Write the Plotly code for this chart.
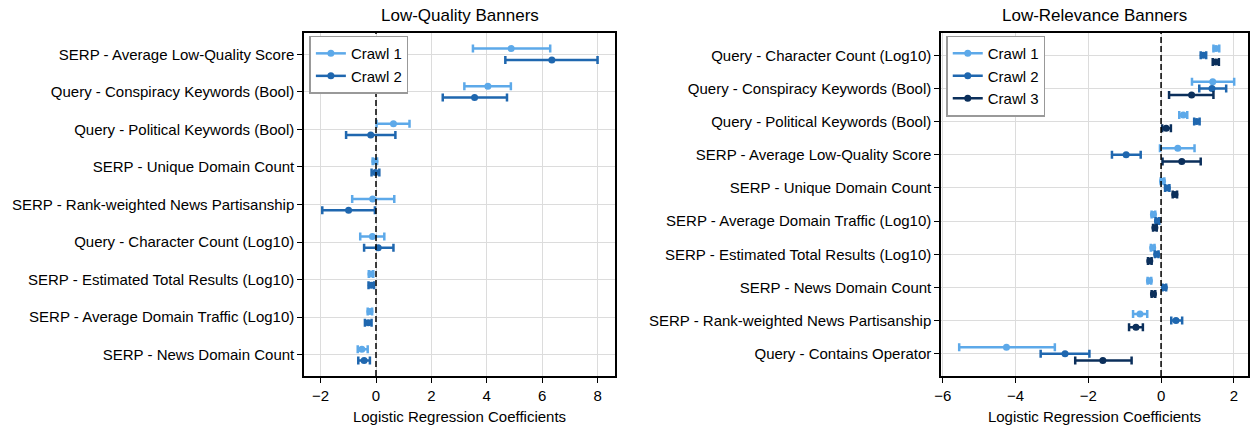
import plotly.graph_objects as go

# Low-Quality Banners (rows listed top to bottom)
lq_features = [
    "SERP - Average Low-Quality Score",
    "Query - Conspiracy Keywords (Bool)",
    "Query - Political Keywords (Bool)",
    "SERP - Unique Domain Count",
    "SERP - Rank-weighted News Partisanship",
    "Query - Character Count (Log10)",
    "SERP - Estimated Total Results (Log10)",
    "SERP - Average Domain Traffic (Log10)",
    "SERP - News Domain Count",
]
lq_crawl1 = [4.88, 4.04, 0.63, -0.04, -0.12, -0.13, -0.18, -0.22, -0.51]
lq_crawl1_lo = [3.50, 3.19, 0.02, -0.12, -0.86, -0.57, -0.26, -0.30, -0.66]
lq_crawl1_hi = [6.29, 4.87, 1.21, 0.04, 0.66, 0.30, -0.10, -0.14, -0.30]
lq_crawl2 = [6.35, 3.56, -0.19, -0.02, -0.99, 0.08, -0.17, -0.28, -0.43]
lq_crawl2_lo = [4.67, 2.41, -1.08, -0.16, -1.94, -0.43, -0.27, -0.40, -0.64]
lq_crawl2_hi = [8.00, 4.73, 0.70, 0.12, -0.04, 0.63, -0.07, -0.16, -0.22]

# Low-Relevance Banners (rows listed top to bottom)
lr_features = [
    "Query - Character Count (Log10)",
    "Query - Conspiracy Keywords (Bool)",
    "Query - Political Keywords (Bool)",
    "SERP - Average Low-Quality Score",
    "SERP - Unique Domain Count",
    "SERP - Average Domain Traffic (Log10)",
    "SERP - Estimated Total Results (Log10)",
    "SERP - News Domain Count",
    "SERP - Rank-weighted News Partisanship",
    "Query - Contains Operator",
]
lr_crawl1 = [1.51, 1.42, 0.61, 0.46, 0.04, -0.21, -0.23, -0.32, -0.58, -4.25]
lr_crawl1_lo = [1.44, 0.85, 0.50, -0.03, -0.01, -0.26, -0.28, -0.37, -0.77, -5.55]
lr_crawl1_hi = [1.60, 2.01, 0.72, 0.92, 0.09, -0.16, -0.18, -0.27, -0.38, -2.92]
lr_crawl2 = [1.16, 1.40, 0.98, -0.96, 0.17, -0.10, -0.12, 0.09, 0.41, -2.64]
lr_crawl2_lo = [1.09, 1.05, 0.91, -1.35, 0.11, -0.15, -0.17, 0.04, 0.28, -3.31]
lr_crawl2_hi = [1.24, 1.79, 1.06, -0.56, 0.23, -0.05, -0.07, 0.14, 0.58, -1.97]
lr_crawl3 = [1.50, 0.84, 0.14, 0.57, 0.38, -0.17, -0.31, -0.21, -0.69, -1.60]
lr_crawl3_lo = [1.42, 0.22, 0.03, 0.04, 0.32, -0.22, -0.36, -0.26, -0.88, -2.36]
lr_crawl3_hi = [1.59, 1.44, 0.27, 1.09, 0.44, -0.12, -0.26, -0.16, -0.50, -0.81]

COLORS = ["#5DA9E9", "#1F67AF", "#0B2F5B"]
FONT = "Liberation Sans, Arial, sans-serif"

fig = go.Figure()


def add_series(name, center, lo, hi, rows, offset, color, xaxis, yaxis, legend):
    ys = [i + offset for i in range(len(rows))]
    fig.add_trace(go.Scatter(
        x=center, y=ys, mode="markers", name=name, showlegend=False,
        marker=dict(color=color, size=7),
        error_x=dict(
            type="data", symmetric=False,
            array=[h - c for c, h in zip(center, hi)],
            arrayminus=[c - l for c, l in zip(center, lo)],
            color=color, thickness=2.5, width=4,
        ),
        xaxis=xaxis, yaxis=yaxis,
    ))
    # legend glyph: short line through a dot, like an errorbar handle
    fig.add_trace(go.Scatter(
        x=[None], y=[None], mode="lines+markers", name=name,
        line=dict(color=color, width=2.5), marker=dict(color=color, size=7),
        xaxis=xaxis, yaxis=yaxis, legend=legend,
    ))


add_series("Crawl 1", lq_crawl1, lq_crawl1_lo, lq_crawl1_hi, lq_features, -0.15, COLORS[0], "x", "y", "legend")
add_series("Crawl 2", lq_crawl2, lq_crawl2_lo, lq_crawl2_hi, lq_features, 0.15, COLORS[1], "x", "y", "legend")
add_series("Crawl 1", lr_crawl1, lr_crawl1_lo, lr_crawl1_hi, lr_features, -0.2, COLORS[0], "x2", "y2", "legend2")
add_series("Crawl 2", lr_crawl2, lr_crawl2_lo, lr_crawl2_hi, lr_features, 0.0, COLORS[1], "x2", "y2", "legend2")
add_series("Crawl 3", lr_crawl3, lr_crawl3_lo, lr_crawl3_hi, lr_features, 0.2, COLORS[2], "x2", "y2", "legend2")

axis_common = dict(
    showline=True, linecolor="black", linewidth=1.5, mirror=True,
    ticks="outside", ticklen=5, tickwidth=1.3, tickcolor="black",
    showgrid=True, gridcolor="#dcdcdc", gridwidth=1, zeroline=False,
    automargin=False,
    tickfont=dict(size=15, color="black", family=FONT),
)

legend_common = dict(
    xanchor="left", yanchor="top", bgcolor="white",
    bordercolor="#999999", borderwidth=1.5,
    font=dict(size=15), tracegroupgap=0, itemwidth=30,
)

fig.update_layout(
    width=1250, height=429,
    margin=dict(l=0, r=0, t=0, b=0),
    paper_bgcolor="white", plot_bgcolor="white",
    font=dict(family=FONT, size=15, color="black"),
    xaxis=dict(domain=[0.2432, 0.492], range=[-2.6, 8.63], dtick=2, anchor="y",
               title=dict(text="Logistic Regression Coefficients", font=dict(size=15), standoff=9),
               **axis_common),
    yaxis=dict(domain=[0.1235, 0.923], range=[8.565, -0.565], anchor="x",
               tickvals=list(range(len(lq_features))), ticktext=lq_features,
               **axis_common),
    xaxis2=dict(domain=[0.7528, 0.9984], range=[-6.05, 2.39], dtick=2, anchor="y2",
                title=dict(text="Logistic Regression Coefficients", font=dict(size=15), standoff=9),
                **axis_common),
    yaxis2=dict(domain=[0.1235, 0.923], range=[9.67, -0.67], anchor="x2",
                tickvals=list(range(len(lr_features))), ticktext=lr_features,
                **axis_common),
    legend=dict(x=0.2475, y=0.917, **legend_common),
    legend2=dict(x=0.757, y=0.917, **legend_common),
    showlegend=True,
    shapes=[
        dict(type="line", xref="x", yref="y domain", x0=0, x1=0, y0=0, y1=1,
             line=dict(color="black", width=1.5, dash="6px,3px")),
        dict(type="line", xref="x2", yref="y2 domain", x0=0, x1=0, y0=0, y1=1,
             line=dict(color="black", width=1.5, dash="6px,3px")),
    ],
    annotations=[
        dict(text="Low-Quality Banners", x=0.3676, y=0.965, xref="paper", yref="paper",
             showarrow=False, font=dict(size=17), xanchor="center", yanchor="middle"),
        dict(text="Low-Relevance Banners", x=0.8756, y=0.965, xref="paper", yref="paper",
             showarrow=False, font=dict(size=17), xanchor="center", yanchor="middle"),
    ],
)

fig.write_html("out.html", config={"displayModeBar": False},
               post_script="document.body.style.margin='0';")
